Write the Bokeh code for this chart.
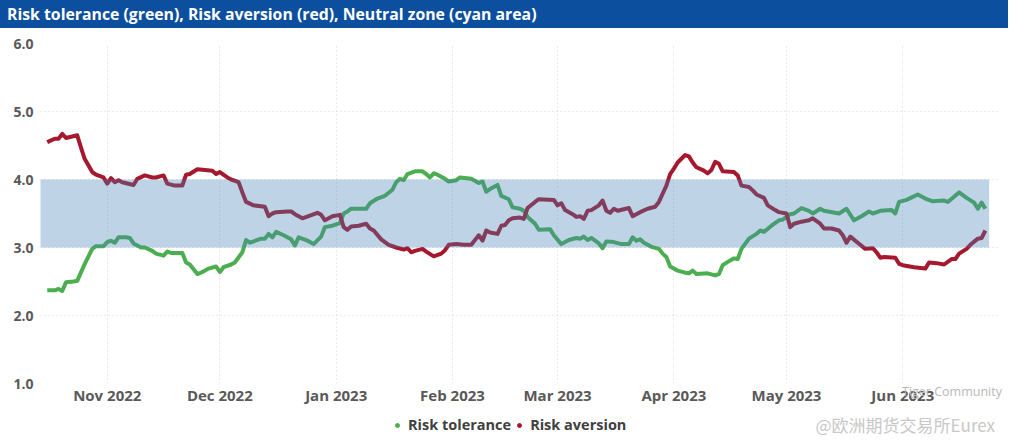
import pandas as pd
from bokeh.plotting import figure
from bokeh.models import (Range1d, FixedTicker, NumeralTickFormatter, DatetimeTickFormatter,
                          Legend, LegendItem, Div, Label, ColumnDataSource)
from bokeh.layouts import column
from bokeh.embed import file_html
from bokeh.resources import INLINE

TITLE = "Risk tolerance (green), Risk aversion (red), Neutral zone (cyan area)"
WATERMARK_1 = "Tiger Community"
WATERMARK_2 = "@欧洲期货交易所Eurex"

red_dates = [
    "2022-10-16", "2022-10-18", "2022-10-19", "2022-10-20", "2022-10-21", "2022-10-24", "2022-10-25",
    "2022-10-26", "2022-10-28", "2022-10-29", "2022-10-31", "2022-11-01", "2022-11-02", "2022-11-03",
    "2022-11-04", "2022-11-05", "2022-11-08", "2022-11-09", "2022-11-11", "2022-11-13", "2022-11-14",
    "2022-11-16", "2022-11-17", "2022-11-19", "2022-11-21", "2022-11-22", "2022-11-23", "2022-11-25",
    "2022-11-27", "2022-11-29", "2022-11-30", "2022-12-01", "2022-12-03", "2022-12-04", "2022-12-06",
    "2022-12-07", "2022-12-08", "2022-12-10", "2022-12-13", "2022-12-14", "2022-12-15", "2022-12-16",
    "2022-12-19", "2022-12-20", "2022-12-21", "2022-12-23", "2022-12-25", "2022-12-27", "2022-12-28",
    "2022-12-29", "2022-12-31", "2023-01-02", "2023-01-03", "2023-01-04", "2023-01-05", "2023-01-07",
    "2023-01-09", "2023-01-10", "2023-01-11", "2023-01-13", "2023-01-15", "2023-01-17", "2023-01-19",
    "2023-01-20", "2023-01-21", "2023-01-22", "2023-01-24", "2023-01-25", "2023-01-27", "2023-01-29",
    "2023-01-30", "2023-01-31", "2023-02-02", "2023-02-04", "2023-02-06", "2023-02-08", "2023-02-09",
    "2023-02-10", "2023-02-11", "2023-02-13", "2023-02-14", "2023-02-15", "2023-02-16", "2023-02-17",
    "2023-02-19", "2023-02-20", "2023-02-21", "2023-02-23", "2023-02-24", "2023-02-28", "2023-03-01",
    "2023-03-02", "2023-03-03", "2023-03-05", "2023-03-06", "2023-03-07", "2023-03-08", "2023-03-09",
    "2023-03-10", "2023-03-12", "2023-03-13", "2023-03-14", "2023-03-15", "2023-03-16", "2023-03-17",
    "2023-03-20", "2023-03-21", "2023-03-23", "2023-03-25", "2023-03-27", "2023-03-28", "2023-03-29",
    "2023-03-30", "2023-03-31", "2023-04-01", "2023-04-02", "2023-04-04", "2023-04-05", "2023-04-06",
    "2023-04-07", "2023-04-09", "2023-04-10", "2023-04-11", "2023-04-12", "2023-04-13", "2023-04-14",
    "2023-04-17", "2023-04-18", "2023-04-19", "2023-04-21", "2023-04-22", "2023-04-23", "2023-04-25",
    "2023-04-26", "2023-04-28", "2023-04-29", "2023-05-01", "2023-05-02", "2023-05-03", "2023-05-05",
    "2023-05-07", "2023-05-08", "2023-05-10", "2023-05-11", "2023-05-13", "2023-05-15", "2023-05-16",
    "2023-05-17", "2023-05-18", "2023-05-20", "2023-05-22", "2023-05-24", "2023-05-25", "2023-05-26",
    "2023-05-27", "2023-05-30", "2023-05-31", "2023-06-01", "2023-06-04", "2023-06-07", "2023-06-08",
    "2023-06-10", "2023-06-12", "2023-06-14", "2023-06-15", "2023-06-16", "2023-06-18", "2023-06-19",
    "2023-06-21", "2023-06-22", "2023-06-23",
]
red_vals = [
    4.55, 4.60, 4.60, 4.67, 4.61, 4.65, 4.47,
    4.30, 4.11, 4.07, 4.03, 3.94, 4.02, 3.96,
    3.99, 3.96, 3.92, 4.01, 4.06, 4.03, 4.03,
    4.06, 3.94, 3.91, 3.91, 4.07, 4.08, 4.15,
    4.14, 4.13, 4.08, 4.11, 4.03, 4.00, 3.96,
    3.81, 3.67, 3.62, 3.60, 3.46, 3.50, 3.52,
    3.53, 3.53, 3.49, 3.43, 3.47, 3.51, 3.48,
    3.40, 3.46, 3.48, 3.30, 3.26, 3.31, 3.32,
    3.35, 3.28, 3.25, 3.12, 3.04, 3.00, 2.97,
    2.99, 2.93, 2.95, 2.98, 2.94, 2.87, 2.91,
    2.96, 3.04, 3.05, 3.04, 3.04, 3.18, 3.10,
    3.25, 3.22, 3.20, 3.32, 3.33, 3.40, 3.43,
    3.44, 3.42, 3.58, 3.67, 3.71, 3.70, 3.62,
    3.65, 3.55, 3.49, 3.45, 3.46, 3.42, 3.54,
    3.55, 3.62, 3.69, 3.54, 3.51, 3.57, 3.54,
    3.58, 3.46, 3.52, 3.57, 3.60, 3.67, 3.79,
    3.91, 4.08, 4.16, 4.25, 4.36, 4.34, 4.25,
    4.18, 4.13, 4.09, 4.14, 4.26, 4.23, 4.12,
    4.11, 4.06, 3.91, 3.89, 3.84, 3.78, 3.73,
    3.62, 3.55, 3.52, 3.50, 3.30, 3.35, 3.38,
    3.40, 3.43, 3.35, 3.28, 3.28, 3.25, 3.18,
    3.07, 3.16, 3.07, 2.98, 2.99, 2.93, 2.85,
    2.86, 2.85, 2.76, 2.74, 2.71, 2.69, 2.78,
    2.77, 2.75, 2.83, 2.83, 2.91, 2.98, 3.04,
    3.13, 3.14, 3.25,
]

green_dates = [
    "2022-10-16", "2022-10-18", "2022-10-19", "2022-10-20", "2022-10-21", "2022-10-23", "2022-10-24",
    "2022-10-26", "2022-10-28", "2022-10-29", "2022-10-31", "2022-11-01", "2022-11-02", "2022-11-03",
    "2022-11-04", "2022-11-06", "2022-11-07", "2022-11-08", "2022-11-10", "2022-11-11", "2022-11-13",
    "2022-11-14", "2022-11-16", "2022-11-17", "2022-11-18", "2022-11-21", "2022-11-22", "2022-11-23",
    "2022-11-25", "2022-11-26", "2022-11-28", "2022-11-30", "2022-12-01", "2022-12-02", "2022-12-04",
    "2022-12-05", "2022-12-07", "2022-12-08", "2022-12-09", "2022-12-12", "2022-12-13", "2022-12-14",
    "2022-12-15", "2022-12-16", "2022-12-18", "2022-12-20", "2022-12-21", "2022-12-22", "2022-12-24",
    "2022-12-26", "2022-12-28", "2022-12-29", "2022-12-31", "2023-01-02", "2023-01-03", "2023-01-04",
    "2023-01-05", "2023-01-09", "2023-01-10", "2023-01-12", "2023-01-14", "2023-01-16", "2023-01-17",
    "2023-01-18", "2023-01-19", "2023-01-20", "2023-01-22", "2023-01-24", "2023-01-25", "2023-01-26",
    "2023-01-27", "2023-01-28", "2023-01-30", "2023-01-31", "2023-02-02", "2023-02-03", "2023-02-06",
    "2023-02-08", "2023-02-09", "2023-02-10", "2023-02-11", "2023-02-13", "2023-02-14", "2023-02-16",
    "2023-02-17", "2023-02-19", "2023-02-20", "2023-02-21", "2023-02-23", "2023-02-24", "2023-02-27",
    "2023-02-28", "2023-03-02", "2023-03-04", "2023-03-06", "2023-03-07", "2023-03-08", "2023-03-09",
    "2023-03-10", "2023-03-12", "2023-03-13", "2023-03-14", "2023-03-16", "2023-03-18", "2023-03-20",
    "2023-03-21", "2023-03-22", "2023-03-23", "2023-03-24", "2023-03-26", "2023-03-28", "2023-03-29",
    "2023-03-30", "2023-03-31", "2023-04-02", "2023-04-04", "2023-04-05", "2023-04-06", "2023-04-07",
    "2023-04-10", "2023-04-12", "2023-04-13", "2023-04-14", "2023-04-16", "2023-04-17", "2023-04-18",
    "2023-04-19", "2023-04-21", "2023-04-23", "2023-04-24", "2023-04-25", "2023-04-27", "2023-04-29",
    "2023-04-30", "2023-05-02", "2023-05-03", "2023-05-05", "2023-05-07", "2023-05-08", "2023-05-10",
    "2023-05-11", "2023-05-15", "2023-05-17", "2023-05-19", "2023-05-21", "2023-05-23", "2023-05-24",
    "2023-05-26", "2023-05-29", "2023-05-30", "2023-05-31", "2023-06-02", "2023-06-05", "2023-06-07",
    "2023-06-09", "2023-06-12", "2023-06-13", "2023-06-16", "2023-06-18", "2023-06-20", "2023-06-21",
    "2023-06-22", "2023-06-23",
]
green_vals = [
    2.37, 2.37, 2.39, 2.36, 2.49, 2.50, 2.51,
    2.76, 2.98, 3.02, 3.02, 3.08, 3.10, 3.07,
    3.15, 3.15, 3.14, 3.06, 3.00, 3.00, 2.95,
    2.91, 2.88, 2.94, 2.92, 2.92, 2.78, 2.75,
    2.61, 2.63, 2.69, 2.72, 2.64, 2.71, 2.75,
    2.78, 2.93, 3.11, 3.07, 3.13, 3.13, 3.20,
    3.15, 3.23, 3.18, 3.12, 3.03, 3.15, 3.11,
    3.05, 3.16, 3.30, 3.32, 3.36, 3.50, 3.53,
    3.57, 3.57, 3.65, 3.72, 3.76, 3.85, 3.96,
    4.01, 3.99, 4.08, 4.12, 4.12, 4.08, 4.03,
    4.09, 4.07, 4.01, 3.97, 3.99, 4.03, 4.01,
    3.95, 3.97, 3.82, 3.86, 3.92, 3.76, 3.71,
    3.59, 3.57, 3.54, 3.45, 3.35, 3.26, 3.27,
    3.18, 3.05, 3.11, 3.14, 3.13, 3.16, 3.11,
    3.14, 3.06, 2.99, 3.09, 3.08, 3.05, 3.05,
    3.15, 3.10, 3.12, 3.07, 3.01, 2.98, 2.91,
    2.86, 2.72, 2.66, 2.63, 2.62, 2.66, 2.61,
    2.62, 2.59, 2.61, 2.74, 2.81, 2.84, 2.83,
    2.98, 3.13, 3.20, 3.25, 3.23, 3.32, 3.40,
    3.41, 3.49, 3.50, 3.58, 3.54, 3.50, 3.57,
    3.54, 3.50, 3.57, 3.40, 3.46, 3.53, 3.50,
    3.54, 3.55, 3.50, 3.67, 3.70, 3.78, 3.72,
    3.68, 3.69, 3.67, 3.81, 3.73, 3.66, 3.57,
    3.66, 3.57,
]

band_dates = ["2022-10-14", "2023-06-24"]
band_low = [3.0, 3.0]
band_high = [4.0, 4.0]

month_ticks = ["2022-11-01", "2022-12-01", "2023-01-01", "2023-02-01", "2023-03-01",
               "2023-04-01", "2023-05-01", "2023-06-01"]
y_ticks = [1.0, 2.0, 3.0, 4.0, 5.0, 6.0]

GREEN = "#4bae4f"
RED = "#a5182d"
FONT = "Open Sans"

red_src = ColumnDataSource(dict(x=pd.to_datetime(red_dates), y=red_vals))
green_src = ColumnDataSource(dict(x=pd.to_datetime(green_dates), y=green_vals))
band_src = ColumnDataSource(dict(x=pd.to_datetime(band_dates), lo=band_low, hi=band_high))

x_start = pd.Timestamp("2022-10-14 05:00")
x_end = pd.Timestamp("2023-06-26 12:00")

W = 1008
p = figure(width=W, height=382, x_axis_type="datetime", output_backend="svg",
           toolbar_location=None, x_range=Range1d(x_start, x_end), y_range=Range1d(1.0, 6.0),
           min_border_left=40, min_border_right=10, min_border_top=15, min_border_bottom=27)
p.outline_line_color = None
p.background_fill_color = "white"
p.border_fill_color = "white"

tick_ms = [pd.Timestamp(t).value / 1e6 for t in month_ticks]
p.xaxis.ticker = FixedTicker(ticks=tick_ms)
p.xaxis.formatter = DatetimeTickFormatter(months="%b %Y", days="%b %Y", years="%b %Y",
                                          hours="%b %Y", minutes="%b %Y")
p.yaxis.ticker = FixedTicker(ticks=y_ticks)
p.yaxis.formatter = NumeralTickFormatter(format="0.0")

for ax in (p.xaxis, p.yaxis):
    ax.axis_line_color = None
    ax.major_tick_line_color = None
    ax.minor_tick_line_color = None
    ax.major_tick_out = 0
    ax.major_tick_in = 0
    ax.major_label_text_font = FONT
    ax.major_label_text_font_style = "bold"
    ax.major_label_text_color = "#595959"
p.xaxis.major_label_text_font_size = "15px"
p.yaxis.major_label_text_font_size = "14px"
p.xaxis.major_label_standoff = 1
p.yaxis.major_label_standoff = 7

p.xgrid.ticker = FixedTicker(ticks=tick_ms)
p.ygrid.ticker = FixedTicker(ticks=y_ticks)
for g in (p.xgrid, p.ygrid):
    g.grid_line_color = "#d6d6d6"
    g.grid_line_dash = "1 3"
    g.grid_line_width = 1

p.line("x", "y", source=green_src, color=GREEN, line_width=4, line_join="round")
p.line("x", "y", source=red_src, color=RED, line_width=4, line_join="round")
p.varea(x="x", y1="lo", y2="hi", source=band_src, fill_color="#4682b4", fill_alpha=0.35)

# legend strip below the chart (its dots reuse the series sources, which fall outside this strip's ranges)
# the column aligns this strip's frame with the chart frame (x 40..998)
p2 = figure(width=W, height=30, output_backend="svg", toolbar_location=None,
            x_range=Range1d(0, 1), y_range=Range1d(0, 1),
            x_axis_location=None, y_axis_location=None,
            min_border_left=0, min_border_right=0, min_border_top=0, min_border_bottom=0)
p2.outline_line_color = None
p2.grid.visible = False
dot_g = p2.scatter("x", "y", source=green_src, marker="circle", size=7, color=GREEN)
dot_r = p2.scatter("x", "y", source=red_src, marker="circle", size=7, color=RED)
legend = Legend(items=[LegendItem(label="Risk tolerance", renderers=[dot_g]),
                       LegendItem(label="Risk aversion", renderers=[dot_r])],
                orientation="horizontal", location=(352, 6),
                label_text_font=FONT, label_text_font_style="bold", label_text_font_size="14.5px",
                label_text_color="#404040", glyph_width=10, glyph_height=18, label_height=18,
                label_standoff=6, spacing=3, padding=0, margin=0,
                border_line_color=None, background_fill_alpha=0)
p2.add_layout(legend, "center")
p2.add_layout(Label(x=775, y=16, x_units="screen", y_units="screen", text=WATERMARK_2,
                    text_font="Noto Sans CJK SC", text_font_size="17px", text_color="#c8c8c8",
                    text_baseline="middle"))

wm_html = (
    '<div style="position:relative;width:%dpx;height:0;">'
    '<span style="position:absolute;left:902px;top:-69px;font-family:\'Open Sans\';'
    'font-size:12.5px;color:#b8b8b8;white-space:nowrap;z-index:10;">%s</span>'
    '</div>' % (W, WATERMARK_1)
)
wm = Div(text=wm_html, width=W, height=1, margin=0, styles={"overflow": "visible", "z-index": "10"})

header = Div(text=TITLE, width=W, height=28, margin=0,
             styles={"background-color": "#0b4f9e", "color": "white", "font-weight": "bold",
                     "font-family": FONT, "font-size": "15.8px", "line-height": "28px",
                     "padding-left": "7px", "box-sizing": "border-box", "white-space": "nowrap",
                     "overflow": "hidden"})

layout = column(header, p, p2, wm, spacing=0)
open("out.html", "w").write(file_html(layout, INLINE))
